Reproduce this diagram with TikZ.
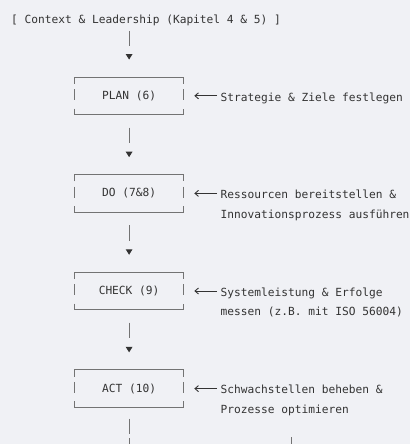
\documentclass[tikz,border=0pt]{standalone}
\usepackage{fontspec}
\setmonofont{DejaVu Sans Mono}
\usetikzlibrary{arrows.meta, positioning, calc}
\definecolor{PaperGray}{RGB}{240,241,245}
\definecolor{InkGray}{RGB}{51,51,51}
\definecolor{RuleGray}{RGB}{115,115,115}

\begin{document}
\begin{tikzpicture}[x=1pt, y=1pt,
  txt/.style={font=\ttfamily\fontsize{11.2}{19.4}\selectfont, text=InkGray, inner sep=0pt},
  phase/.style={txt, minimum width=108pt, minimum height=37pt},
  note/.style={txt, align=left, anchor=north west, yshift=8.4pt},
  rim/.style={RuleGray, line width=1pt},
  flow/.style={RuleGray, line width=1.1pt, dash pattern=on 15.4pt off 40pt, -{Triangle[width=6.5pt,length=5.5pt,InkGray]}, shorten <=13pt, shorten >=17.5pt},
  hint/.style={InkGray, line width=0.9pt, -{Straight Barb[length=3.5pt,width=6pt]}, shorten <=3.5pt, shorten >=11pt},
  run/.style={RuleGray, line width=1.1pt, dash pattern=on 15.4pt off 4pt}]
\useasboundingbox (0,0) rectangle (410,-444);
\fill[PaperGray] (0,0) rectangle (410,-444);
\clip (0,0) rectangle (410,-444);
\node[txt, anchor=base west] (CL) at (11,-23.4) {[ Context \& Leadership (Kapitel 4 \& 5) ]};
\node[phase] (P) at (129.1,-95.8) {PLAN (6)};
\node[phase, below=60.2pt of P] (D) {DO (7\&8)};
\node[phase, below=60.2pt of D] (C) {CHECK (9)};
\node[phase, below=60.2pt of C] (A) {ACT (10)};
\node[right=37.2pt of P.east, note] (PN) {\strut Strategie \& Ziele festlegen};
\node[right=37.2pt of D.east, note] (DN) {\strut Ressourcen bereitstellen \&\\\strut Innovationsprozess ausführen};
\node[right=37.2pt of C.east, note] (CN) {\strut Systemleistung \& Erfolge\\\strut messen (z.B. mit ISO 56004)};
\node[right=37.2pt of A.east, note] (AN) {\strut Schwachstellen beheben \&\\\strut Prozesse optimieren};
\coordinate (X1) at ($(A.south)+(0,-60)$);
\coordinate (R1) at (291.1,-437.3);
\coordinate (R2) at (291.1,-470);
\foreach \b in {P,D,C,A}{
  \draw[rim] ($(\b.north west)+(0,-6.7)$) |- (\b.north east) -- ++(0,-6.7);
  \draw[rim] ($(\b.south west)+(0,6)$) |- (\b.south east) -- ++(0,6);
  \draw[rim] ($(\b.west)+(0,6.8)$) -- ++(0,-11);
  \draw[rim] ($(\b.east)+(0,6.8)$) -- ++(0,-11);
}
\draw[flow, shorten <=5pt] (CL.south -| P.north) -- (P.north);
\draw[flow] (P) -- (D);
\draw[flow] (D) -- (C);
\draw[flow] (C) -- (A);
\draw[hint] (PN.west |- P.east) -- (P.east);
\draw[hint] (DN.west |- D.east) -- (D.east);
\draw[hint] (CN.west |- C.east) -- (C.east);
\draw[hint] (AN.west |- A.east) -- (A.east);
\draw[run, shorten <=11.4pt] (A) -- (X1);
\draw[run] (R1) -- (R2);
\end{tikzpicture}
\end{document}
